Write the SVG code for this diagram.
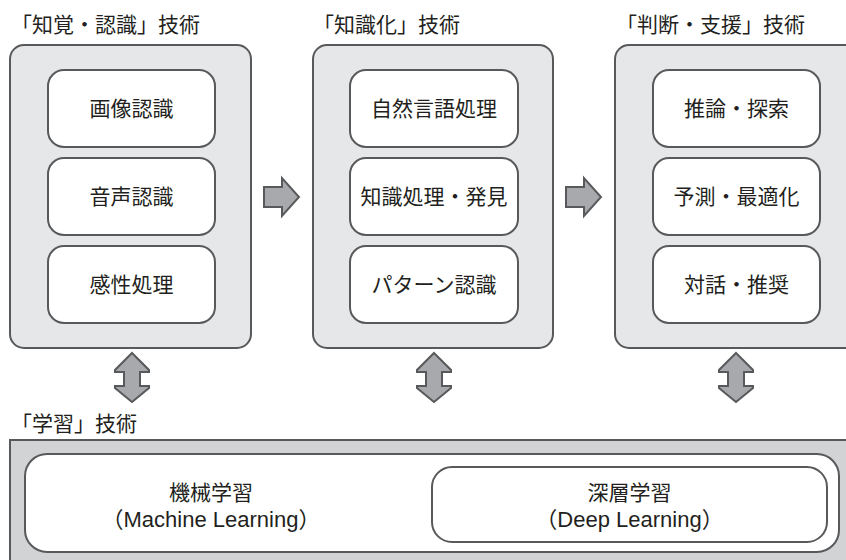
<svg xmlns="http://www.w3.org/2000/svg" width="846" height="560" viewBox="0 0 846 560">
<style>
text{font-family:"Noto Sans CJK JP","Noto Sans",sans-serif;fill:#231f20}
.t{font-size:21px}
.l{font-size:21px;text-anchor:middle}
.e{font-family:"Liberation Sans","Noto Sans CJK JP",sans-serif;font-size:22px;text-anchor:middle}
.panel{fill:#e6e7e8;stroke:#58595b;stroke-width:2}
.box{fill:#fff;stroke:#58595b;stroke-width:2}
.arr{fill:#a7a9ac;stroke:#58595b;stroke-width:2;stroke-linejoin:miter}
</style>
<defs>
<path id="ra" d="M0,-10 H18 V-19 L35,0 L18,19 V10 H0 Z"/>
<path id="va" d="M0,0 L17,17 V19 H8 V33 H17 V35 L0,49 L-17,35 V33 H-8 V19 H-17 V17 Z"/>
</defs>
<g id="node-perception">
<rect class="panel" x="10" y="45" width="241" height="303" rx="14"/>
<text class="t" x="11" y="32">「知覚・認識」技術</text>
<rect class="box" x="48" y="70" width="167" height="77" rx="16"/>
<text class="l" x="131.5" y="116">画像認識</text>
<rect class="box" x="48" y="158" width="167" height="77" rx="16"/>
<text class="l" x="131.5" y="204">音声認識</text>
<rect class="box" x="48" y="246" width="167" height="77" rx="16"/>
<text class="l" x="131.5" y="292">感性処理</text>
</g>
<g id="node-knowledge">
<rect class="panel" x="313" y="45" width="240" height="303" rx="14"/>
<text class="t" x="313" y="32">「知識化」技術</text>
<rect class="box" x="350" y="70" width="168" height="77" rx="16"/>
<text class="l" x="434" y="116">自然言語処理</text>
<rect class="box" x="350" y="158" width="168" height="77" rx="16"/>
<text class="l" x="434" y="204">知識処理・発見</text>
<rect class="box" x="350" y="246" width="168" height="77" rx="16"/>
<text class="l" x="434" y="292">パターン認識</text>
</g>
<g id="node-judgment">
<rect class="panel" x="615" y="45" width="260" height="303" rx="14"/>
<text class="t" x="616" y="32">「判断・支援」技術</text>
<rect class="box" x="653" y="70" width="167" height="77" rx="16"/>
<text class="l" x="736.5" y="116">推論・探索</text>
<rect class="box" x="653" y="158" width="167" height="77" rx="16"/>
<text class="l" x="736.5" y="204">予測・最適化</text>
<rect class="box" x="653" y="246" width="167" height="77" rx="16"/>
<text class="l" x="736.5" y="292">対話・推奨</text>
</g>
<g id="node-learning">
<text class="t" x="11" y="431">「学習」技術</text>
<rect x="10" y="440" width="860" height="140" fill="#d1d3d4" stroke="#58595b" stroke-width="2"/>
<rect class="box" x="25" y="454" width="814" height="98" rx="22"/>
<text class="l" x="211" y="500">機械学習</text>
<text class="e" x="211" y="527">（Machine Learning）</text>
<g id="node-deep">
<rect class="box" x="432" y="467" width="395" height="75" rx="20"/>
<text class="l" x="629.5" y="500">深層学習</text>
<text class="e" x="629.5" y="527">（Deep Learning）</text>
</g>
</g>
<g id="connectors">
<use href="#ra" class="arr" x="264" y="197"/>
<use href="#ra" class="arr" x="566" y="197"/>
<use href="#va" class="arr" x="132" y="353"/>
<use href="#va" class="arr" x="434" y="353"/>
<use href="#va" class="arr" x="736" y="353"/>
</g>
</svg>
